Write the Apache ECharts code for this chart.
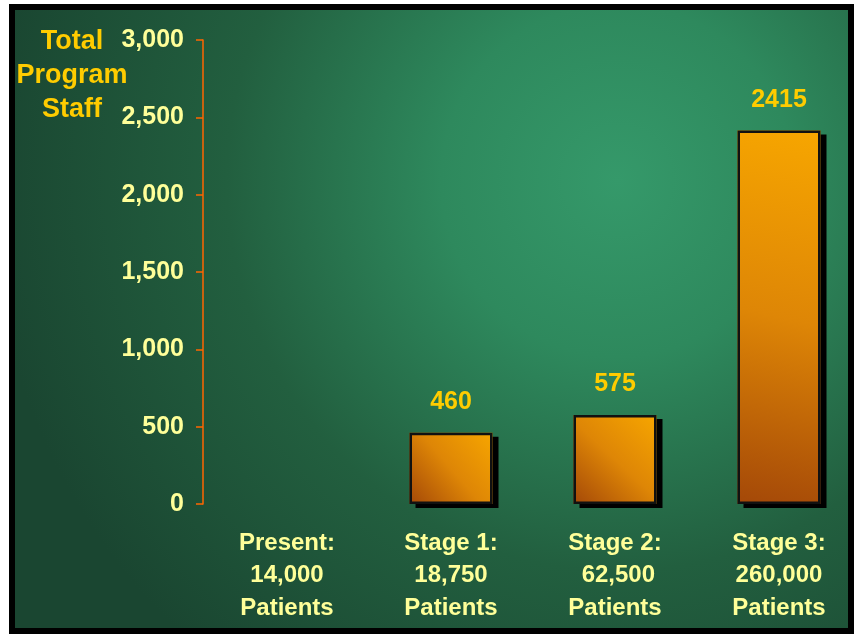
<!DOCTYPE html>
<html>
<head>
<meta charset="utf-8">
<script src="https://cdn.jsdelivr.net/npm/echarts@6/dist/echarts.min.js"></script>
<style>
  html, body { margin: 0; padding: 0; background: #ffffff; }
  #chart { width: 856px; height: 637px; }
</style>
</head>
<body>
<div id="chart"></div>
<script>
// Program staffing by stage (patient counts shown under each stage)
const categories = ['Present:\n14,000\nPatients', 'Stage 1:\n18,750\nPatients', 'Stage 2:\n 62,500\nPatients', 'Stage 3:\n260,000\nPatients'];
const staff = [null, 460, 575, 2415];
const yTicks = [0, 500, 1000, 1500, 2000, 2500, 3000];

const FONT = '"Liberation Sans", Arial, sans-serif';
const chart = echarts.init(document.getElementById('chart'), null, { renderer: 'canvas' });

const barFill = {
  type: 'linear', x: 1, y: 0, x2: 0, y2: 1,
  colorStops: [
    { offset: 0, color: '#F7A600' },
    { offset: 0.5, color: '#DE8606' },
    { offset: 1, color: '#A44808' }
  ]
};

chart.setOption({
  animation: false,
  backgroundColor: '#ffffff',
  graphic: [{
    type: 'rect',
    z: -10,
    silent: true,
    shape: { x: 12, y: 7, width: 839, height: 624 },
    style: {
      fill: {
        type: 'radial', x: 0.72, y: 0.28, r: 1.0,
        colorStops: [
          { offset: 0, color: '#35996a' },
          { offset: 0.28, color: '#2e895d' },
          { offset: 0.62, color: '#225f3f' },
          { offset: 1, color: '#1a4631' }
        ]
      },
      stroke: '#000000',
      lineWidth: 6
    }
  }],
  title: {
    text: 'Total\nProgram\nStaff',
    left: 67,
    top: 20,
    textAlign: 'center',
    textStyle: {
      color: '#FFCC00', fontFamily: FONT, fontWeight: 'bold',
      fontSize: 27, lineHeight: 34
    }
  },
  grid: {
    left: 205, width: 656, top: 40, height: 464,
    containLabel: false, outerBoundsMode: 'none'
  },
  xAxis: {
    type: 'category',
    data: categories,
    axisLine: { show: false },
    axisTick: { show: false },
    axisLabel: {
      interval: 0,
      margin: 23,
      color: '#FFFF99', fontFamily: FONT, fontWeight: 'bold',
      fontSize: 24, lineHeight: 32.5
    }
  },
  yAxis: {
    type: 'value',
    min: 0, max: 3000, interval: 500,
    offset: 2,
    splitLine: { show: false },
    axisLine: { show: true, lineStyle: { color: '#FF6600', width: 1.5 } },
    axisTick: { show: true, length: 7, lineStyle: { color: '#FF6600', width: 1.5 } },
    axisLabel: {
      margin: 19,
      color: '#FFFF99', fontFamily: FONT, fontWeight: 'bold', fontSize: 25,
      formatter: v => yTicks.includes(v) ? v.toLocaleString('en-US') : ''
    }
  },
  series: [{
    // filled bars with a hard drop shadow
    type: 'bar',
    data: staff,
    barWidth: 83,
    z: 2,
    itemStyle: {
      color: barFill,
      shadowColor: '#000000',
      shadowBlur: 0,
      shadowOffsetX: 6,
      shadowOffsetY: 4
    },
    label: {
      show: true,
      position: 'top',
      distance: 18,
      color: '#FFCC00', fontFamily: FONT, fontWeight: 'bold', fontSize: 25,
      formatter: p => p.value == null ? '' : String(p.value)
    }
  }, {
    // dark outline drawn over the same bars
    type: 'bar',
    data: staff,
    barWidth: 83,
    barGap: '-100%',
    z: 3,
    silent: true,
    itemStyle: {
      color: 'rgba(0,0,0,0)',
      borderColor: '#111111',
      borderWidth: 2.5
    }
  }]
});
</script>
</body>
</html>
